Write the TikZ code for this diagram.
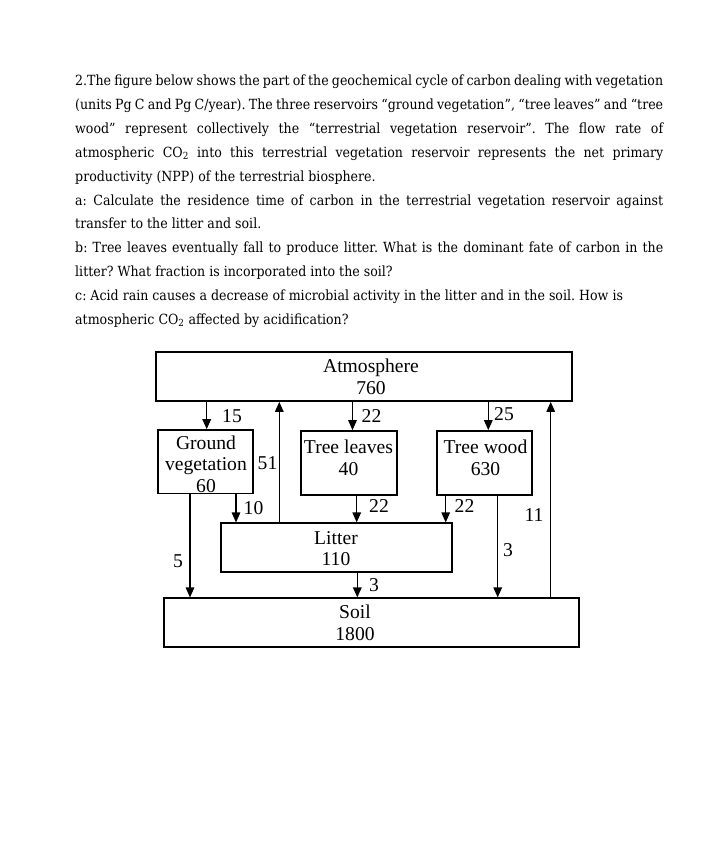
\documentclass[tikz,border=0pt]{standalone}
\usepackage{fontspec}
\setmainfont[FakeStretch=0.90]{DejaVu Serif}
\newfontfamily\diagfont{Liberation Serif}
\usetikzlibrary{arrows.meta}
\frenchspacing
\begin{document}
\frenchspacing
\begin{tikzpicture}[x=1pt,y=-1pt,
  box/.style={draw, line width=1.7pt, inner sep=0pt},
  arr/.style={line width=1.4pt, -{Triangle[length=10pt,width=8.5pt]}},
  dtxt/.style={font=\diagfont\fontsize{19.6}{21.5}\selectfont, align=center, inner sep=0pt},
  num/.style={font=\diagfont\fontsize{19.6}{21.5}\selectfont, inner sep=0pt},
  para/.style={anchor=base west, inner sep=0pt, font=\fontsize{14}{16}\selectfont}]
\useasboundingbox[fill=white] (0,0) rectangle (723,843);

% ---- question text ----
\node[para] (l1) at (75,85.5) {\makebox[588pt][s]{2.The figure below shows the part of the geochemical cycle of carbon dealing with vegetation}};
\node[para] (l2) at (75,109.4) {\makebox[588pt][s]{(units Pg C and Pg C/year). The three reservoirs “ground vegetation”, “tree leaves” and “tree}};
\node[para] (l3) at (75,133.3) {\makebox[588pt][s]{wood” represent collectively the “terrestrial vegetation reservoir”. The flow rate of}};
\node[para] (l4) at (75,157.2) {\makebox[588pt][s]{atmospheric CO\textsubscript{2} into this terrestrial vegetation reservoir represents the net primary}};
\node[para] (l5) at (75,181.1) {productivity (NPP) of the terrestrial biosphere.};
\node[para] (l6) at (75,205.0) {\makebox[588pt][s]{a: Calculate the residence time of carbon in the terrestrial vegetation reservoir against}};
\node[para] (l7) at (75,228.9) {transfer to the litter and soil.};
\node[para] (l8) at (75,252.8) {\makebox[588pt][s]{b: Tree leaves eventually fall to produce litter. What is the dominant fate of carbon in the}};
\node[para] (l9) at (75,276.7) {litter? What fraction is incorporated into the soil?};
\node[para] (l10) at (75,300.6) {c: Acid rain causes a decrease of microbial activity in the litter and in the soil. How is};
\node[para] (l11) at (75,324.5) {atmospheric CO\textsubscript{2} affected by acidification?};

% ---- reservoirs ----
\node[box, minimum width=416pt, minimum height=49pt] (atm) at (364,376.5) {};
\node[dtxt] (atmt) at (371,377) {Atmosphere\\760};
\node[box, minimum width=95pt, minimum height=63.3pt] (gv) at (205.8,461.7) {};
\node[dtxt] (gvt) at (206,464) {Ground\\vegetation\\60};
\node[box, minimum width=96pt, minimum height=64pt] (tl) at (348.7,463) {};
\node[dtxt] (tlt) at (348.5,458) {Tree leaves\\40};
\node[box, minimum width=95.6pt, minimum height=64pt] (tw) at (484.5,463) {};
\node[dtxt] (twt) at (485.5,458) {Tree wood\\630};
\node[box, minimum width=230.7pt, minimum height=48.4pt] (lit) at (336.35,547.5) {};
\node[dtxt] (litt) at (336,548.5) {Litter\\110};
\node[box, minimum width=415.3pt, minimum height=48.4pt] (soil) at (371.65,622.5) {};
\node[dtxt] (soilt) at (355,623) {Soil\\1800};

% ---- fluxes ----
\draw[arr] (206.7,0 |- atm.south) -- (206.7,0 |- gv.north);
\draw[arr] (352.5,0 |- atm.south) -- (352.5,0 |- tl.north);
\draw[arr] (488.3,0 |- atm.south) -- (488.3,0 |- tw.north);
\draw[arr] (279.3,0 |- lit.north) -- (279.3,0 |- atm.south);
\draw[arr] (550.7,0 |- soil.north) -- (550.7,0 |- atm.south);
\draw[arr] (190,0 |- gv.south) -- (190,0 |- soil.north);
\draw[arr] (236,0 |- gv.south) -- (236,0 |- lit.north);
\draw[arr] (356.7,0 |- tl.south) -- (356.7,0 |- lit.north);
\draw[arr] (445.7,0 |- tw.south) -- (445.7,0 |- lit.north);
\draw[arr] (497.7,0 |- tw.south) -- (497.7,0 |- soil.north);
\draw[arr] (357.3,0 |- lit.south) -- (357.3,0 |- soil.north);

% ---- flux labels ----
\node[num] (f15) at (232,416.5) {15};
\node[num] (f51) at (267.5,463) {51};
\node[num] (f22a) at (371.5,416) {22};
\node[num] (f25) at (504,414) {25};
\node[num] (f11) at (534,515) {11};
\node[num] (f10) at (253.5,508) {10};
\node[num] (f22b) at (379,506.5) {22};
\node[num] (f22c) at (464.5,506.5) {22};
\node[num] (f5) at (178,561.5) {5};
\node[num] (f3a) at (508,550) {3};
\node[num] (f3b) at (374,585.5) {3};
\end{tikzpicture}
\end{document}
